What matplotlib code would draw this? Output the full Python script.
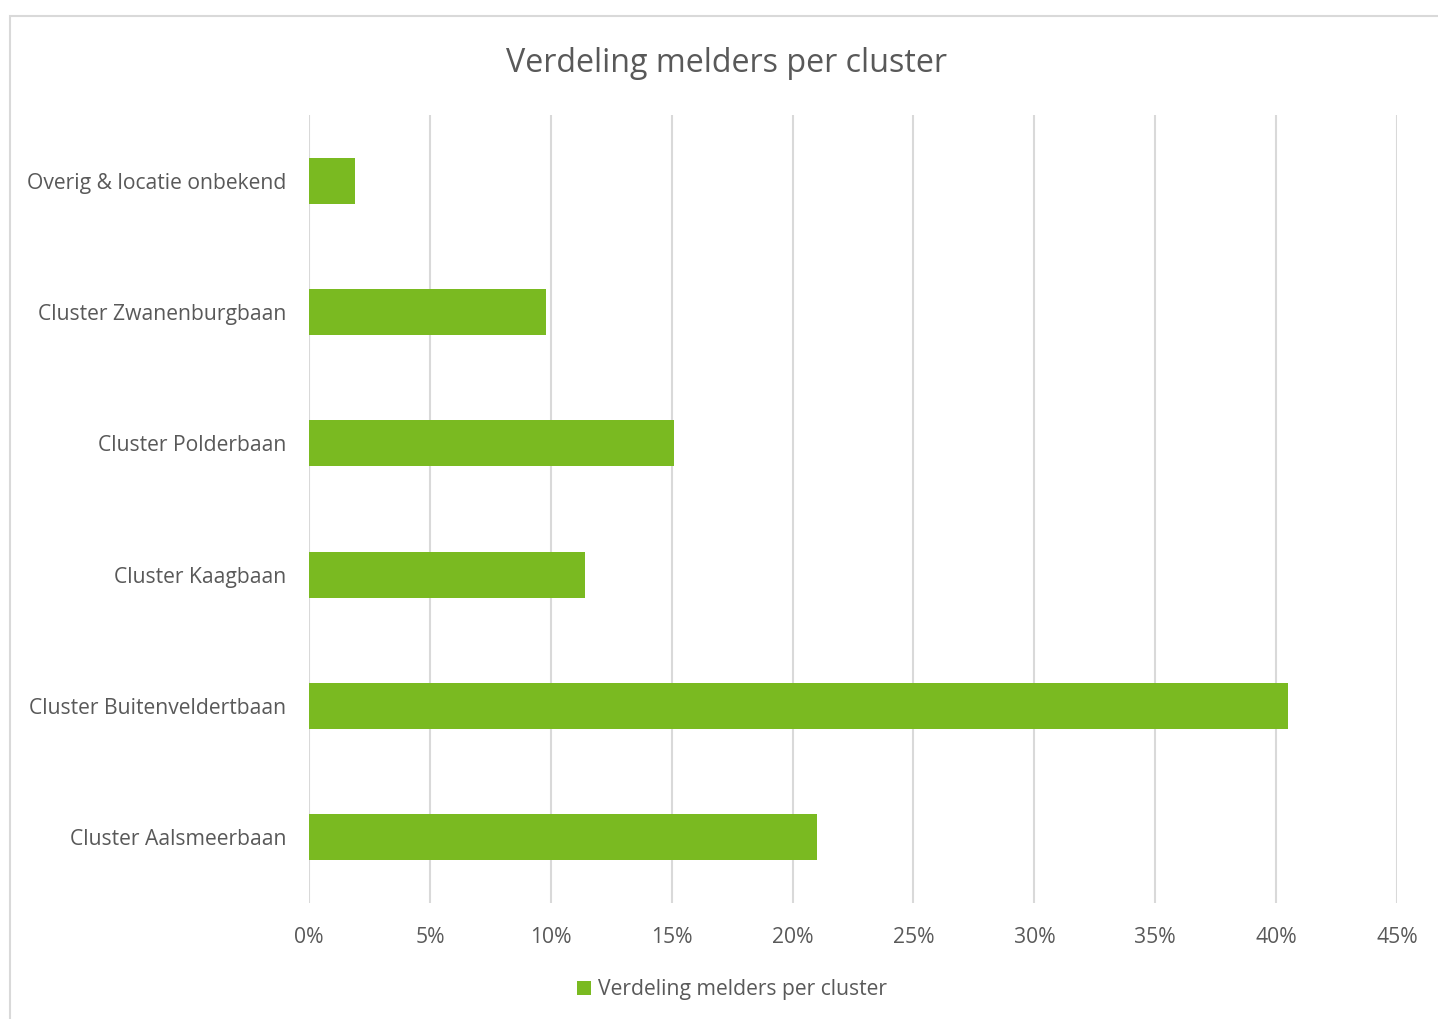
import matplotlib as mpl
mpl.use('Agg')
import matplotlib.pyplot as plt
from matplotlib.patches import Rectangle
from matplotlib.ticker import FuncFormatter

clusters = ['Cluster Aalsmeerbaan', 'Cluster Buitenveldertbaan', 'Cluster Kaagbaan',
            'Cluster Polderbaan', 'Cluster Zwanenburgbaan', 'Overig & locatie onbekend']
aandeel = [0.210, 0.405, 0.114, 0.151, 0.098, 0.019]
x_ticks = [0, 0.05, 0.10, 0.15, 0.20, 0.25, 0.30, 0.35, 0.40, 0.45]

groen = '#7aba21'
tekst = '#595959'
grijs = '#d9d9d9'

plt.rcParams['font.family'] = ['Open Sans', 'DejaVu Sans']

fig = plt.figure(figsize=(14.38, 10.19), dpi=100)
ax = fig.add_axes([309 / 1438, 116 / 1019, 1088 / 1438, 788 / 1019])

ax.barh(range(len(clusters)), aandeel, height=0.35, color=groen,
        label='Verdeling melders per cluster', zorder=3)
ax.set_xlim(0, 0.45)
ax.set_ylim(-0.5, len(clusters) - 0.5)
ax.set_xticks(x_ticks)
ax.xaxis.set_major_formatter(FuncFormatter(lambda v, p: f'{round(v * 100)}%'))
ax.set_yticks(range(len(clusters)))
ax.set_yticklabels(clusters)
ax.tick_params(axis='both', length=0, labelsize=15.2, colors=tekst)
ax.tick_params(axis='x', pad=17)
ax.tick_params(axis='y', pad=16.5)
ax.grid(axis='x', color=grijs, linewidth=1.5, zorder=0)
for s in ax.spines.values():
    s.set_visible(False)

fig.text(727 / 1438, 1 - 64 / 1019, 'Verdeling melders per cluster', ha='center', va='center',
         fontsize=23.2, color=tekst)

leg = fig.legend(loc='center', bbox_to_anchor=(732 / 1438, 1 - 990 / 1019), frameon=False,
                 fontsize=15.2, labelcolor=tekst, handlelength=0.65, handleheight=0.65,
                 handletextpad=0.3)

# rand van het grafiekgebied
fig.patches.append(Rectangle((9.5 / 1438, -0.05), 1.2, (1019 - 15.5) / 1019 + 0.05,
                             transform=fig.transFigure, fill=False, edgecolor=grijs,
                             linewidth=1.5))

fig.savefig('out.png', dpi=100)
